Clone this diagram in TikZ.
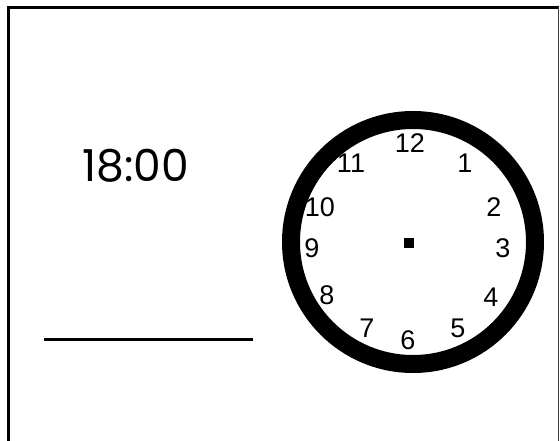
\documentclass[tikz,border=0pt]{standalone}
\usepackage{fontspec}
\setmainfont{Liberation Sans}
\newfontfamily\timefont{Poppins}
\usetikzlibrary{positioning}

\begin{document}
\begin{tikzpicture}[x=1pt, y=-1pt,
    hour/.style={font=\fontsize{27}{27}\selectfont, inner sep=0pt, anchor=center}]
  \useasboundingbox (0,0) rectangle (560,441);
  % Card frame (open at the bottom)
  \coordinate (fbl) at (8.5,441);
  \coordinate (ftl) at (8.5,7.5);
  \coordinate (ftr) at (558.5,7.5);
  \coordinate (fbr) at (558.5,441);
  \draw[line width=3pt] (fbl) -- (ftl) -- (ftr);
  \draw[line width=1.5pt, black!75] (ftr) -- (fbr);
  % Time to read
  \node[font=\timefont\fontsize{44}{44}\selectfont, inner sep=0pt]
    (time) at (136,166) {18:00};
  % Answer line
  \coordinate (la) at (44,339);
  \coordinate (lb) at (253,339);
  \draw[line width=3pt] (la) -- (lb);
  % Clock face
  \node[circle, draw, line width=18pt, minimum size=244pt, inner sep=0pt]
    (face) at (413,242) {};
  \node[fill, minimum size=10pt, inner sep=0pt] (hub) at (409,243) {};
  % Hour numbers
  \node[hour] (h12) at (410,143) {12};
  \node[hour] (h1) at (465,163) {1};
  \node[hour] (h2) at (494,207) {2};
  \node[hour] (h3) at (503,248) {3};
  \node[hour] (h4) at (491,297) {4};
  \node[hour] (h5) at (458,328) {5};
  \node[hour] (h6) at (408,340) {6};
  \node[hour] (h7) at (367,328) {7};
  \node[hour] (h8) at (327,295) {8};
  \node[hour] (h9) at (312,248) {9};
  \node[hour] (h10) at (320,207) {10};
  \node[hour] (h11) at (351,163) {11};
\end{tikzpicture}
\end{document}
